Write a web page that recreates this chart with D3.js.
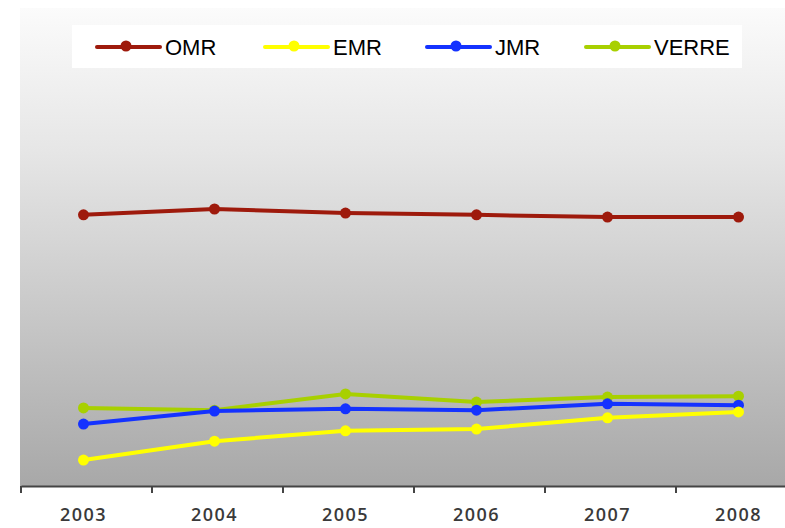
<!DOCTYPE html>
<html><head><meta charset="utf-8">
<script src="https://cdn.jsdelivr.net/npm/d3@7"></script>
<style>body{margin:0;background:#fff}svg{display:block}</style>
</head><body>
<svg id="c" width="785" height="528"></svg>
<script>
const years = ["2003","2004","2005","2006","2007","2008"];
const OMR = [60.7, 62.0, 61.1, 60.7, 60.2, 60.2];
const EMR = [6.2, 10.4, 12.7, 13.1, 15.6, 16.9];
const JMR = [14.2, 17.1, 17.6, 17.3, 18.7, 18.4];
const VERRE = [17.8, 17.3, 20.9, 19.1, 20.2, 20.4];
const seriesNames = ["OMR","EMR","JMR","VERRE"];
const seriesColors = ["#9e1a0c","#ffff00","#1432ff","#a8d000"];
const series = [OMR, EMR, JMR, VERRE];

const svg = d3.select("#c");
const W = 785, H = 528;
const mLeft = 20, mBottom = 486, mTop = 8;
const x = d3.scaleBand().domain(years).range([21, 807]).paddingInner(0).paddingOuter(0);
const y = d3.scaleLinear().domain([0, 100]).range([mBottom + 2, 38]);

const defs = svg.append("defs");
const g1 = defs.append("linearGradient").attr("id","bg").attr("x1",0).attr("y1",0).attr("x2",0).attr("y2",1);
g1.append("stop").attr("offset","0").attr("stop-color","#fbfbfb");
g1.append("stop").attr("offset","0.3").attr("stop-color","#e6e6e6");
g1.append("stop").attr("offset","1").attr("stop-color","#a8a8a8");
svg.append("rect").attr("x",mLeft).attr("y",mTop).attr("width",W-mLeft).attr("height",mBottom-mTop).attr("fill","url(#bg)");

// x axis
const ax = svg.append("g").attr("transform",`translate(0,${mBottom})`)
  .call(d3.axisBottom(x).tickSize(0).tickPadding(22));
ax.select(".domain").attr("stroke","#444").attr("stroke-width",2);
ax.selectAll("text").attr("font-family","'Open Sans', sans-serif").attr("font-size",18).attr("font-weight","600")
  .attr("letter-spacing","1.5px").attr("fill","#3a3a3a").attr("dx",-3);
ax.selectAll(".bt").data(years).join("line").attr("class","bt")
  .attr("x1",d=>x(d)).attr("x2",d=>x(d)).attr("y1",0).attr("y2",7)
  .attr("stroke","#444").attr("stroke-width",2);

const cx = d => x(d) + x.bandwidth()/2 - 3;
const line = d3.line().x((d,i)=>cx(years[i])).y(d=>y(d));
const order = [3,2,1,0];
order.forEach(k=>{
  const gs = svg.append("g");
  gs.append("path").datum(series[k]).attr("d",line).attr("fill","none")
    .attr("stroke",seriesColors[k]).attr("stroke-width",4).attr("stroke-linejoin","round");
  gs.selectAll("circle").data(series[k]).join("circle")
    .attr("cx",(d,i)=>cx(years[i])).attr("cy",d=>y(d)).attr("r",5.5).attr("fill",seriesColors[k]);
});

// legend
svg.append("rect").attr("x",72).attr("y",25).attr("width",670).attr("height",43).attr("fill","#fff");
const lx = [97, 265, 427, 586];
seriesNames.forEach((n,k)=>{
  const g = svg.append("g").attr("transform",`translate(${lx[k]},47)`);
  g.append("line").attr("x1",0).attr("x2",63).attr("stroke",seriesColors[k]).attr("stroke-width",4).attr("stroke-linecap","round");
  g.append("circle").attr("cx",29).attr("cy",-1).attr("r",5.5).attr("fill",seriesColors[k]);
  g.append("text").attr("x",68).attr("y",8).text(n)
    .attr("font-family","'Liberation Sans Narrow','Arial Narrow',sans-serif").attr("font-size",22).attr("fill","#000");
});
</script>
</body></html>
